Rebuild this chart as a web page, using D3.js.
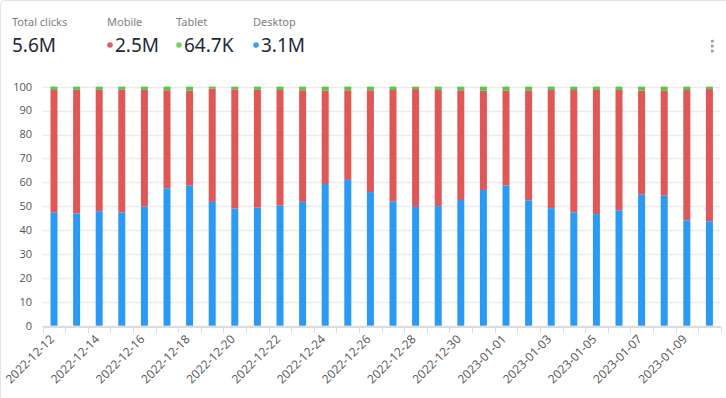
<!DOCTYPE html>
<html>
  <head>
    <meta charset="UTF-8" />
    <style>
      body {
        margin: 0;
        background: #fff;
      }
      svg {
        display: block;
      }
      .hdr-label {
        font-family: 'Noto Sans', sans-serif;
        font-size: 11px;
        fill: #7a7f86;
      }
      .hdr-value {
        font-family: 'Noto Sans', sans-serif;
        font-size: 19px;
        fill: #1f2a3a;
      }
      .axis text {
        font-family: 'Open Sans', sans-serif;
        font-size: 11px;
        fill: #555;
      }
      .axis text.xl {
        font-size: 12px;
      }
    </style>
  </head>
  <body>
    <svg></svg>

    <script src="https://cdn.jsdelivr.net/npm/d3@7"></script>

    <script>
      // share of clicks per day, in percent
      let dates = [
        '2022-12-12', '2022-12-13', '2022-12-14', '2022-12-15', '2022-12-16',
        '2022-12-17', '2022-12-18', '2022-12-19', '2022-12-20', '2022-12-21',
        '2022-12-22', '2022-12-23', '2022-12-24', '2022-12-25', '2022-12-26',
        '2022-12-27', '2022-12-28', '2022-12-29', '2022-12-30', '2022-12-31',
        '2023-01-01', '2023-01-02', '2023-01-03', '2023-01-04', '2023-01-05',
        '2023-01-06', '2023-01-07', '2023-01-08', '2023-01-09', '2023-01-10'
      ]
      let desktop = [
        47.3, 46.9, 47.9, 47.4, 49.8, 57.5, 58.6, 51.8, 49.0, 49.4,
        50.2, 51.8, 59.3, 61.0, 55.9, 51.9, 49.7, 50.0, 52.6, 56.8,
        58.6, 52.5, 49.2, 47.4, 46.7, 48.3, 54.8, 54.4, 44.1, 43.7
      ]
      let mobile = [
        51.3, 51.8, 50.8, 51.3, 48.9, 41.0, 39.7, 47.4, 49.9, 49.3,
        48.4, 46.7, 39.0, 37.5, 42.6, 46.7, 49.3, 48.6, 45.9, 41.5,
        39.7, 46.0, 49.4, 51.2, 51.9, 50.3, 43.5, 43.9, 54.5, 55.3
      ]
      let tablet = [
        1.4, 1.3, 1.3, 1.3, 1.3, 1.5, 1.7, 0.8, 1.1, 1.3,
        1.4, 1.5, 1.7, 1.5, 1.5, 1.4, 1.0, 1.4, 1.5, 1.7,
        1.7, 1.5, 1.4, 1.4, 1.4, 1.4, 1.7, 1.7, 1.4, 1.0
      ]
      let yTicks = [0, 10, 20, 30, 40, 50, 60, 70, 80, 90, 100]

      // header totals
      let summary = [
        { label: 'Total clicks', value: '5.6M', color: null, x: 12 },
        { label: 'Mobile', value: '2.5M', color: '#e06060', x: 107 },
        { label: 'Tablet', value: '64.7K', color: '#7fcf5f', x: 176 },
        { label: 'Desktop', value: '3.1M', color: '#3d9cf5', x: 253 }
      ]

      let width = 726,
        height = 398

      let svg = d3.select('svg').attr('width', width).attr('height', height)

      // card border
      svg
        .append('rect')
        .attr('x', 0.5)
        .attr('y', 0.5)
        .attr('width', width + 10)
        .attr('height', height + 10)
        .attr('rx', 5)
        .attr('fill', 'none')
        .attr('stroke', '#e4e4e4')

      let hdr = svg.append('g')
      summary.forEach((s) => {
        hdr
          .append('text')
          .attr('class', 'hdr-label')
          .attr('x', s.x)
          .attr('y', 26)
          .text(s.label)
        let vx = s.x
        if (s.color) {
          hdr
            .append('circle')
            .attr('cx', s.x + 3)
            .attr('cy', 45)
            .attr('r', 2.8)
            .attr('fill', s.color)
          vx = s.x + 8
        }
        hdr
          .append('text')
          .attr('class', 'hdr-value')
          .attr('x', vx)
          .attr('y', 52)
          .text(s.value)
      })

      // kebab menu
      hdr
        .selectAll('.dot')
        .data([41, 46, 51])
        .enter()
        .append('rect')
        .attr('x', 711)
        .attr('y', (d) => d - 1.2)
        .attr('width', 2.6)
        .attr('height', 2.6)
        .attr('fill', '#9a9a9a')

      let x = d3
        .scaleBand()
        .domain(dates)
        .range([42.7, 720.7])
        .paddingInner(0.69)
        .paddingOuter(0.345)

      let y = d3.scaleLinear().domain([0, 100]).range([325.7, 86.7])

      // grid
      svg
        .append('g')
        .selectAll('line')
        .data(yTicks)
        .enter()
        .append('line')
        .attr('x1', 42.7)
        .attr('x2', 720.7)
        .attr('y1', (d) => Math.round(y(d)) + 0.5)
        .attr('y2', (d) => Math.round(y(d)) + 0.5)
        .attr('stroke', '#ebebeb')
        .attr('stroke-width', 1.5)

      // y labels
      let yAxis = svg.append('g').attr('class', 'axis')
      yAxis
        .selectAll('text')
        .data(yTicks)
        .enter()
        .append('text')
        .attr('x', 32)
        .attr('y', (d) => y(d))
        .attr('dy', '0.35em')
        .attr('text-anchor', 'end')
        .text((d) => d)

      // stacked bars
      let rows = dates.map((d, i) => ({
        date: d,
        desktop: desktop[i],
        mobile: mobile[i],
        tablet: tablet[i]
      }))
      let keys = ['desktop', 'mobile', 'tablet']
      let colors = { desktop: '#2b9af5', mobile: '#e05757', tablet: '#58c647' }
      let stack = d3.stack().keys(keys)(rows)

      svg
        .append('g')
        .selectAll('g')
        .data(stack)
        .enter()
        .append('g')
        .attr('fill', (s) => colors[s.key])
        .selectAll('rect')
        .data((s) => s)
        .enter()
        .append('rect')
        .attr('x', (d) => x(d.data.date))
        .attr('width', x.bandwidth())
        .attr('y', (d) => y(d[1]))
        .attr('height', (d) => y(d[0]) - y(d[1]))

      // x axis
      let xAxis = svg.append('g').attr('class', 'axis')
      xAxis
        .append('line')
        .attr('x1', 42.7)
        .attr('x2', 720.7)
        .attr('y1', 327)
        .attr('y2', 327)
        .attr('stroke', '#dcdcdc')
        .attr('stroke-width', 2)

      let gap = (x.step() - x.bandwidth()) / 2
      let bounds = dates.map((d) => x(d) - gap).concat([x(dates[dates.length - 1]) + x.bandwidth() + gap])
      xAxis
        .selectAll('.tick')
        .data(bounds)
        .enter()
        .append('line')
        .attr('x1', (d) => Math.round(d) + 0.5)
        .attr('x2', (d) => Math.round(d) + 0.5)
        .attr('y1', 327)
        .attr('y2', 333)
        .attr('stroke', '#dcdcdc')

      xAxis
        .selectAll('.lbl')
        .data(dates.filter((d, i) => i % 2 === 0))
        .enter()
        .append('text')
        .attr('class', 'xl')
        .attr('text-anchor', 'end')
        .attr(
          'transform',
          (d) => 'translate(' + (x(d) + x.bandwidth() / 2 + 1) + ',340) rotate(-45)'
        )
        .text((d) => d)
    </script>
  </body>
</html>
